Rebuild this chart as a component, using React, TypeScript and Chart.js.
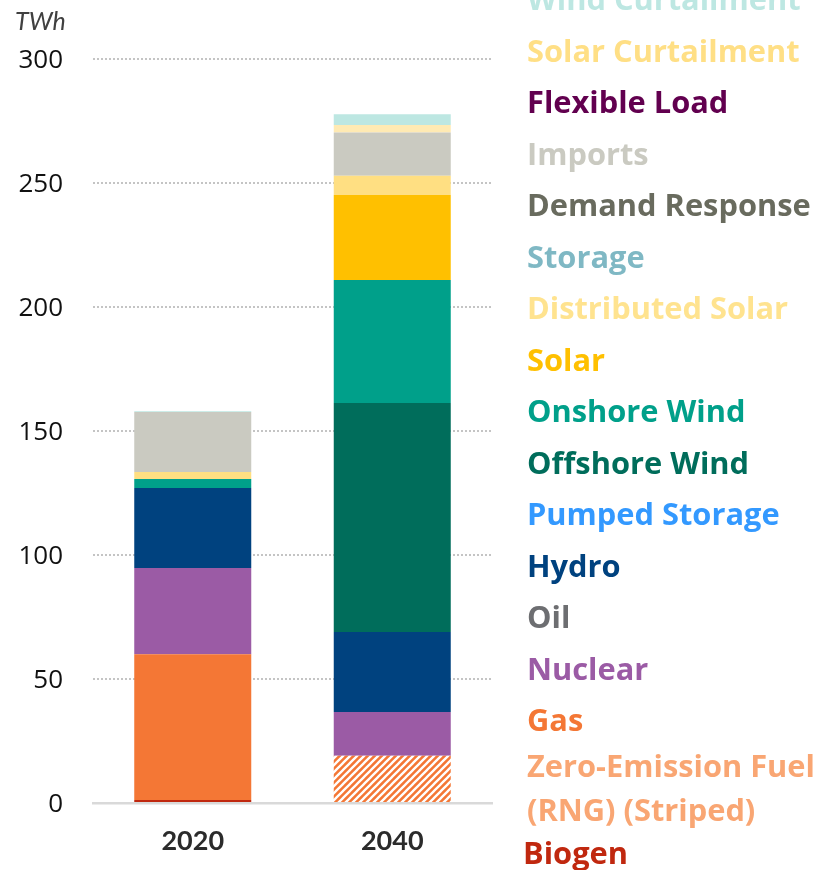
import { useEffect, useRef } from 'react';
import { Chart, registerables } from 'chart.js';
Chart.register(...registerables);

const categories = ['2020', '2040'];
const yTicks = [0, 50, 100, 150, 200, 250, 300];
const unitLabel = 'TWh';

// stack order bottom -> top
const seriesNames = [
  'Biogen', 'Zero-Emission Fuel (RNG) (Striped)', 'Gas', 'Nuclear', 'Oil', 'Hydro', 'Pumped Storage',
  'Offshore Wind', 'Onshore Wind', 'Solar', 'Distributed Solar', 'Storage', 'Demand Response',
  'Imports', 'Flexible Load', 'Solar Curtailment', 'Wind Curtailment',
];
const biogen = [1.2, 0];
const zeroEmissionFuel = [0, 19.1];
const gas = [58.8, 0];
const nuclear = [34.8, 17.6];
const oil = [0, 0];
const hydro = [32.2, 32.3];
const pumpedStorage = [0, 0];
const offshoreWind = [0, 92.3];
const onshoreWind = [3.6, 49.6];
const solar = [0, 34.3];
const distributedSolar = [2.9, 7.7];
const storage = [0, 0];
const demandResponse = [0, 0];
const imports = [24.2, 17.5];
const flexibleLoad = [0, 0];
const solarCurtailment = [0, 3.0];
const windCurtailment = [0.3, 4.3];

const seriesValues = [
  biogen, zeroEmissionFuel, gas, nuclear, oil, hydro, pumpedStorage, offshoreWind, onshoreWind,
  solar, distributedSolar, storage, demandResponse, imports, flexibleLoad, solarCurtailment, windCurtailment,
];

const barColors = [
  '#C0280F', 'STRIPE', '#F47735', '#9B5BA5', '#6D6E71', '#00427F', '#3399FF',
  '#006D5B', '#00A08A', '#FFC000', '#FFDF82', '#7FB8C4', '#696B5E',
  '#CACAC1', '#62004F', '#FFEAB3', '#BDE7E2',
];
const textColors = [
  '#C0280F', '#F9A673', '#F47735', '#9B5BA5', '#6D6E71', '#00427F', '#3399FF',
  '#006D5B', '#00A08A', '#FFC000', '#FFE38F', '#7FB8C4', '#696B5E',
  '#CACAC1', '#62004F', '#FFDF85', '#BDE7E2',
];

function makeStripe(): CanvasPattern | string {
  const P = 7;
  const c = document.createElement('canvas');
  c.width = P;
  c.height = P;
  const g = c.getContext('2d');
  if (!g) return '#F47735';
  g.fillStyle = '#F47735';
  g.fillRect(0, 0, P, P);
  g.strokeStyle = '#FFFFFF';
  g.lineWidth = 2.3;
  g.beginPath();
  g.moveTo(-1, 1); g.lineTo(1, -1);
  g.moveTo(0, P); g.lineTo(P, 0);
  g.moveTo(P - 1, P + 1); g.lineTo(P + 1, P - 1);
  g.stroke();
  return g.createPattern(c, 'repeat') || '#F47735';
}

export default function App() {
  const ref = useRef<HTMLCanvasElement | null>(null);
  useEffect(() => {
    document.body.style.margin = '0';
    const canvas = ref.current;
    if (!canvas) return;
    const stripe = makeStripe();
    const datasets = seriesNames.map((name, i) => ({
      label: name,
      data: seriesValues[i],
      backgroundColor: barColors[i] === 'STRIPE' ? stripe : barColors[i],
      borderWidth: 0,
      barPercentage: 1,
      categoryPercentage: 0.5865,
    }));

    const legendPlugin = {
      id: 'customLegend',
      afterDraw(chart: any) {
        const ctx = chart.ctx as CanvasRenderingContext2D;
        ctx.save();
        // unit label
        ctx.font = 'italic 25px Lato';
        ctx.fillStyle = '#404040';
        ctx.textAlign = 'left';
        ctx.textBaseline = 'alphabetic';
        ctx.fillText(unitLabel, 15, 21.5 + 0.7165 * 25 / 2);
        // legend
        const fs = 30.8;
        ctx.font = `bold ${fs}px "Open Sans"`;
        const half = (0.714 * fs) / 2;
        const x = 527;
        const order = seriesNames.map((_, i) => seriesNames.length - 1 - i);
        order.forEach((idx, k) => {
          ctx.fillStyle = textColors[idx];
          const name = seriesNames[idx];
          if (name.startsWith('Zero-Emission')) {
            ctx.fillText('Zero-Emission Fuel', x, 766 + half);
            ctx.fillText('(RNG) (Striped)', x, 810 + half);
          } else if (name === 'Biogen') {
            ctx.fillText(name, x - 4, 853 + half);
          } else {
            ctx.fillText(name, x, -0.5 + k * 51.5 + half);
          }
        });
        ctx.restore();
      },
    };

    const chart = new Chart(canvas, {
      type: 'bar',
      data: { labels: categories, datasets },
      plugins: [legendPlugin],
      options: {
        animation: false,
        responsive: false,
        maintainAspectRatio: false,
        layout: { padding: { top: 59, right: 326, left: 0, bottom: 0 } },
        plugins: {
          legend: { display: false },
          tooltip: { enabled: false },
          title: { display: false },
        },
        scales: {
          x: {
            stacked: true,
            grid: { display: false },
            border: { display: true, color: '#D9D9D9', width: 2.5 },
            ticks: {
              color: '#2B2B2B',
              font: { family: 'Lato', size: 27, weight: 'bold' },
              padding: 14,
            },
            afterFit(scale: any) { scale.height = 67; },
          },
          y: {
            stacked: true,
            min: 0,
            max: 300,
            afterBuildTicks(scale: any) { scale.ticks = yTicks.map((v) => ({ value: v })); },
            grid: {
              drawTicks: false,
              color: (c: any) => (c.tick && c.tick.value === 0 ? 'rgba(0,0,0,0)' : '#C4C4C4'),
              lineWidth: 2,
            },
            border: { display: false, dash: [2, 2] },
            ticks: {
              color: '#111111',
              font: { family: 'Open Sans', size: 26 },
              padding: 30,
              labelOffset: 2,
            },
            afterFit(scale: any) { scale.width = 93; },
          },
        },
      },
    });
    return () => chart.destroy();
  }, []);

  return (
    <div style={{ width: 818, height: 870, position: 'relative' }}>
      <canvas ref={ref} width={818} height={870} />
    </div>
  );
}
